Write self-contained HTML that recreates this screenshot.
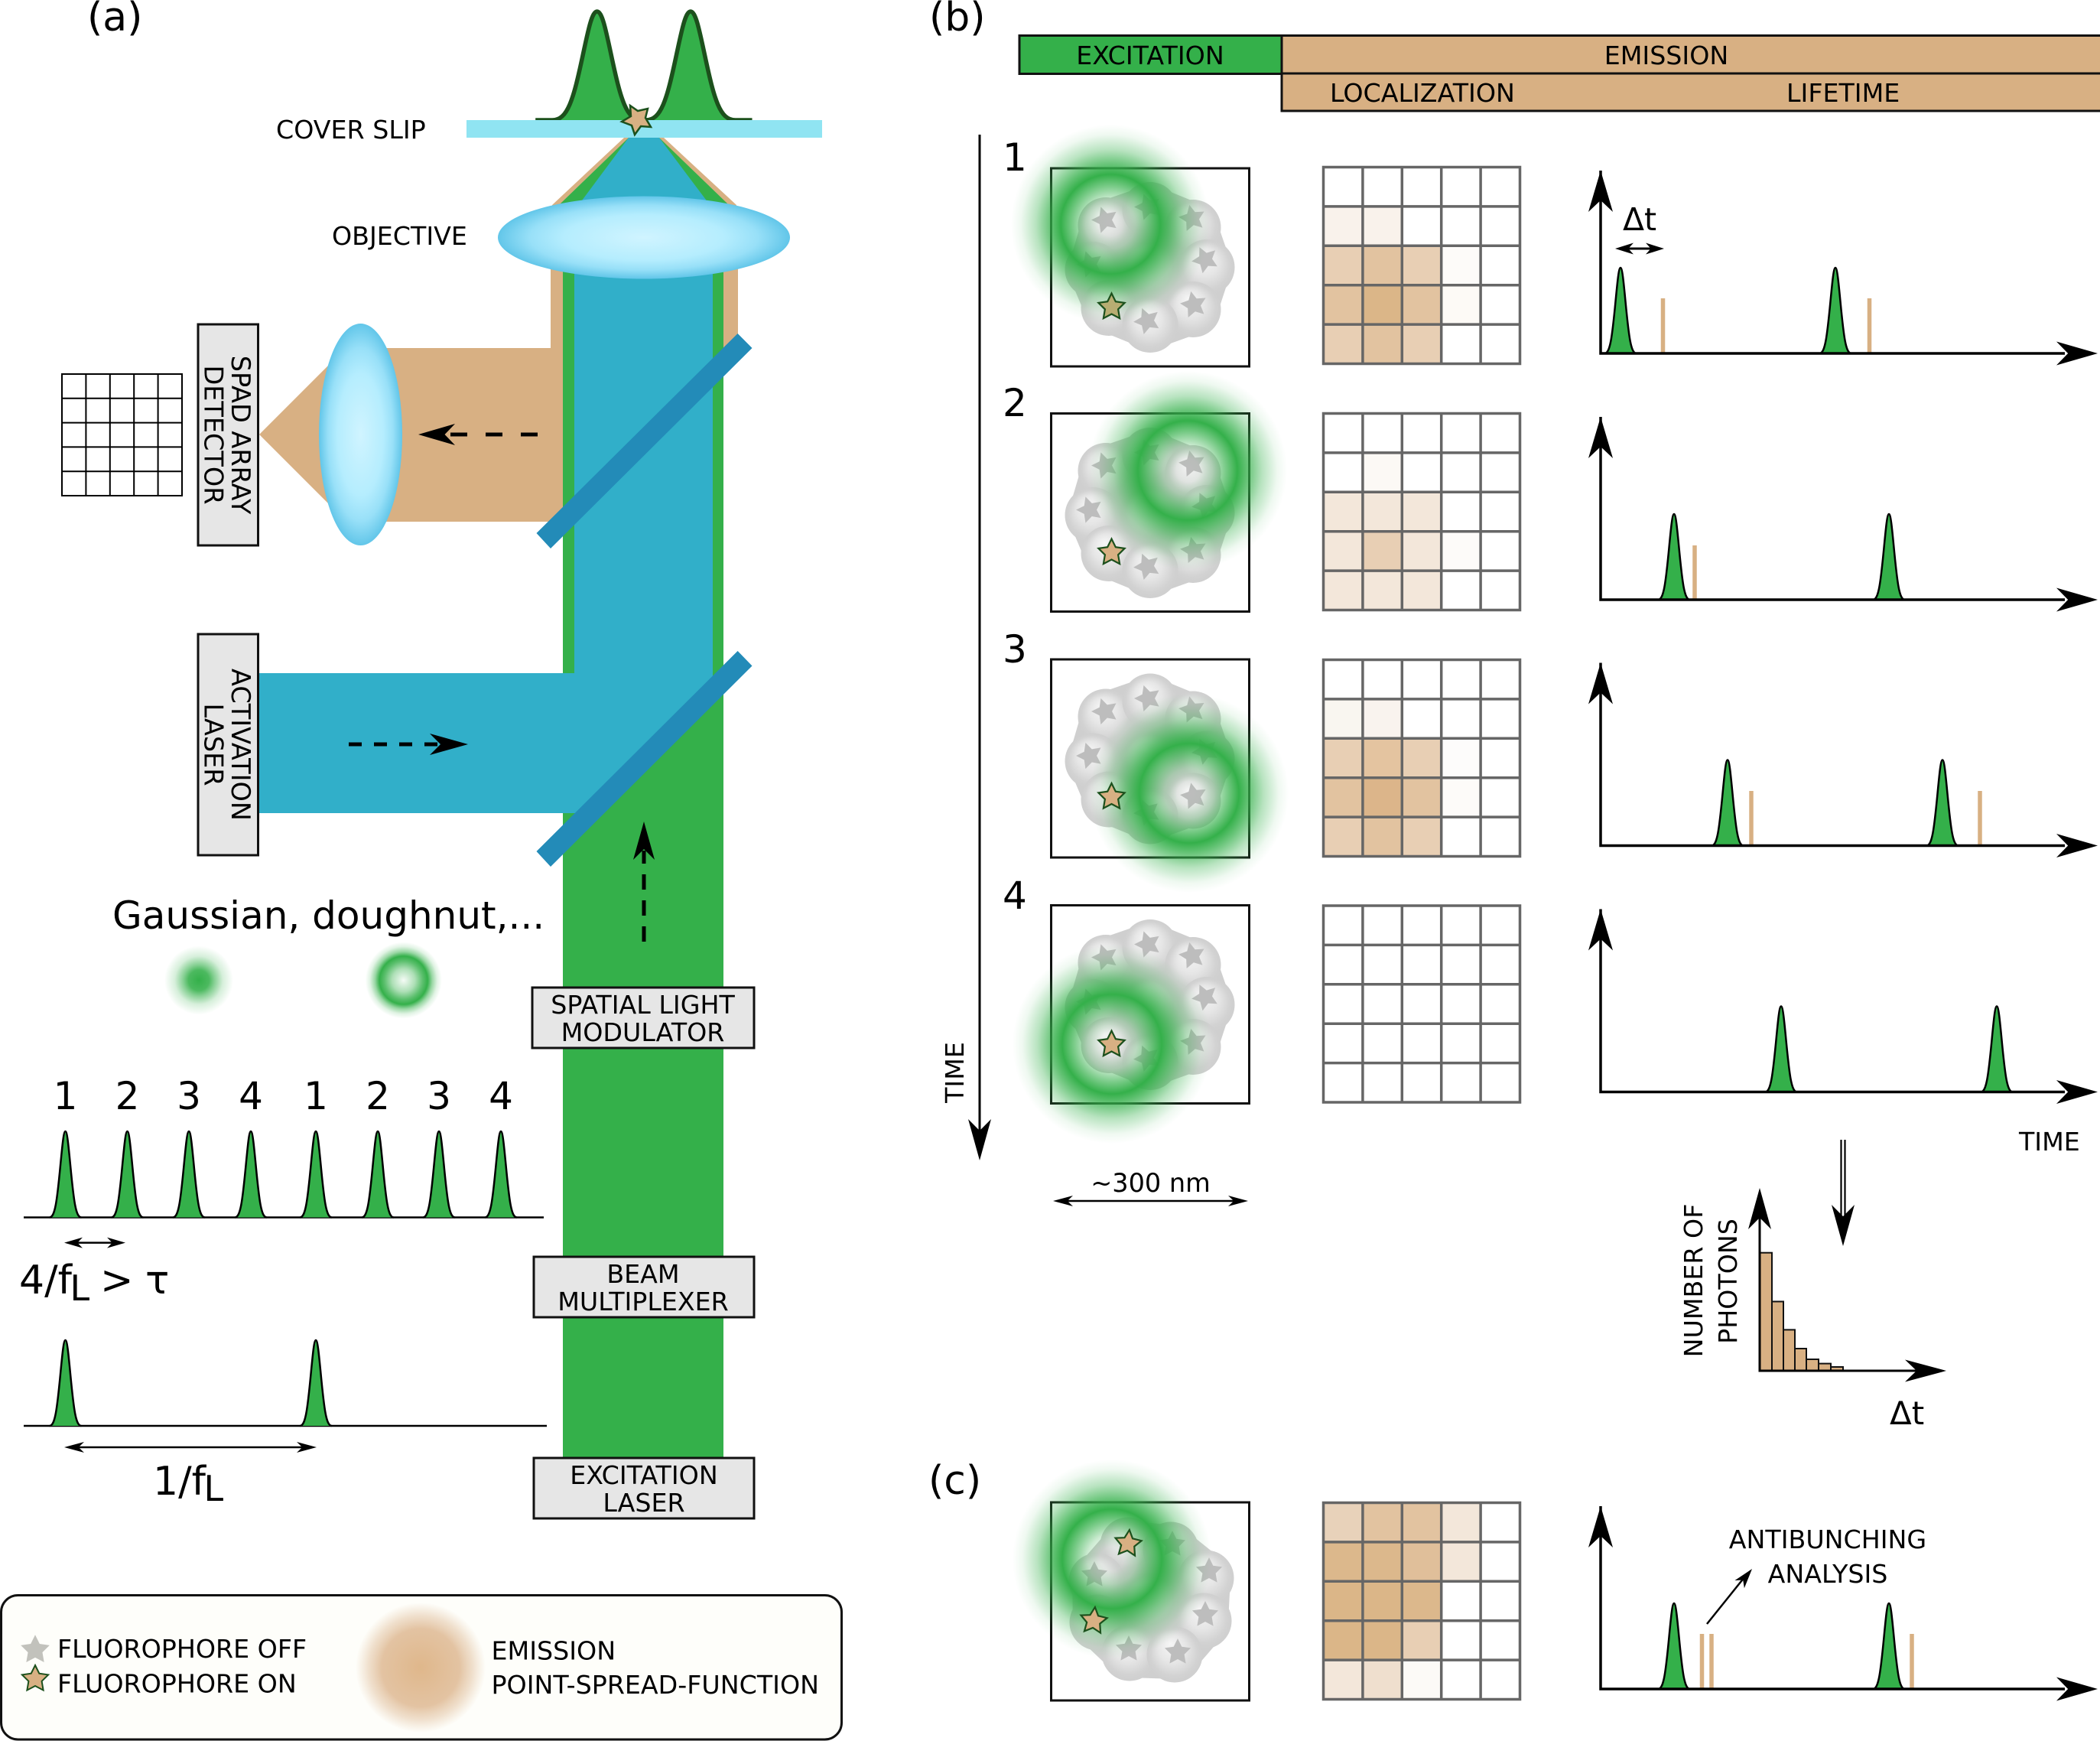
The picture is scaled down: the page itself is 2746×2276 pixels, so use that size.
<!DOCTYPE html>
<html><head><meta charset="utf-8"><title>Diagram</title>
<style>
html,body{margin:0;padding:0;background:#fff}
svg{display:block}
text{font-family:"DejaVu Sans","Liberation Sans",sans-serif;fill:#000}
.t{font-size:33.25px}
.m{text-anchor:middle}
</style></head><body>
<svg xmlns="http://www.w3.org/2000/svg" width="2746" height="2276" viewBox="0 0 2746 2276">
<defs>
<radialGradient id="lens"><stop offset="0" stop-color="#d0f4ff"/><stop offset=".55" stop-color="#b5edfe"/><stop offset=".78" stop-color="#98e0f8"/><stop offset="1" stop-color="#62c6e9"/></radialGradient>
<radialGradient id="dn"><stop offset="0" stop-color="#34b04a" stop-opacity="0"/><stop offset=".12" stop-color="#34b04a" stop-opacity=".03"/><stop offset=".25" stop-color="#34b04a" stop-opacity=".25"/><stop offset=".38" stop-color="#34b04a" stop-opacity=".65"/><stop offset=".5" stop-color="#34b04a" stop-opacity="1"/><stop offset=".6" stop-color="#34b04a" stop-opacity=".75"/><stop offset=".75" stop-color="#34b04a" stop-opacity=".35"/><stop offset=".9" stop-color="#34b04a" stop-opacity=".08"/><stop offset="1" stop-color="#34b04a" stop-opacity="0"/></radialGradient>
<radialGradient id="ga"><stop offset="0" stop-color="#34b04a"/><stop offset=".3" stop-color="#34b04a" stop-opacity=".88"/><stop offset=".45" stop-color="#34b04a" stop-opacity=".6"/><stop offset=".7" stop-color="#34b04a" stop-opacity=".2"/><stop offset="1" stop-color="#34b04a" stop-opacity="0"/></radialGradient>
<radialGradient id="dsm"><stop offset="0" stop-color="#34b04a" stop-opacity=".05"/><stop offset=".3" stop-color="#34b04a" stop-opacity=".4"/><stop offset=".5" stop-color="#34b04a" stop-opacity=".8"/><stop offset=".63" stop-color="#34b04a" stop-opacity="1"/><stop offset=".75" stop-color="#34b04a" stop-opacity=".5"/><stop offset=".88" stop-color="#34b04a" stop-opacity=".15"/><stop offset="1" stop-color="#34b04a" stop-opacity="0"/></radialGradient>
<radialGradient id="em"><stop offset="0" stop-color="#dfb78b"/><stop offset=".6" stop-color="#e3c3a2"/><stop offset=".8" stop-color="#e6cbae" stop-opacity=".6"/><stop offset="1" stop-color="#e8d0b5" stop-opacity="0"/></radialGradient>
<radialGradient id="sph" cx=".5" cy=".5" r=".5" fx=".42" fy=".3"><stop offset="0" stop-color="#f6f6f6"/><stop offset=".5" stop-color="#e6e6e6"/><stop offset=".85" stop-color="#d2d2d2"/><stop offset="1" stop-color="#cfcfcf"/></radialGradient>
<path id="st" d="M0-18 5.3-7.3 17.1-5.6 8.6 2.8 10.6 14.6 0 9-10.6 14.6-8.6 2.8-17.1-5.6-5.3-7.3Z"/>
<path id="h" d="M0 0-1-1-.72 0-1 1Z"/>
<path id="g" d="M-3.2 0C-2.1 0-1.7-.182-1-.6065C-.6-.849-.35-1 0-1C.35-1 .6-.849 1-.6065C1.7-.182 2.1 0 3.2 0" fill="#34b04a" stroke="#000" stroke-width="2.5" vector-effect="non-scaling-stroke"/>
<path id="gb" d="M-4.4 0H-3.2C-2.1 0-1.7-.182-1-.6065C-.6-.849-.35-1 0-1C.35-1 .6-.849 1-.6065C1.7-.182 2.1 0 3.2 0H4.4" fill="#34b04a" stroke="#1c501c" stroke-width="5.5" vector-effect="non-scaling-stroke"/>
<circle id="sp" cx="0" cy="0" r="36.5" fill="url(#sph)"/>
<g id="cl">
<polygon points="72,75 130,55 186,78 204,130 186,185 130,205 76,183 55,133" fill="#cfcfcf" stroke="#cfcfcf" stroke-width="64" stroke-linejoin="round"/>
<use href="#sp" x="130" y="132"/>
<use href="#sp" x="72" y="75"/>
<use href="#sp" x="130" y="55"/>
<use href="#sp" x="186" y="78"/>
<use href="#sp" x="204" y="130"/>
<use href="#sp" x="186" y="185"/>
<use href="#sp" x="55" y="133"/>
<use href="#sp" x="76" y="183"/>
<use href="#sp" x="130" y="205"/>
<g fill="#bdbdbd">
<use href="#st" transform="translate(71,68) rotate(-18)"/>
<use href="#st" transform="translate(127,51) rotate(-18)"/>
<use href="#st" transform="translate(185,66) rotate(-12)"/>
<use href="#st" transform="translate(202,120) rotate(-25)"/>
<use href="#st" transform="translate(187,179) rotate(-12)"/>
<use href="#st" transform="translate(126,200) rotate(-22)"/>
<use href="#st" transform="translate(51,126) rotate(-18)"/>
</g>
</g>
<g id="clc">
<polygon points="101,56 157,62 203,99 200,155 162,199 103,197 61,157 60,103" fill="#cfcfcf" stroke="#cfcfcf" stroke-width="64" stroke-linejoin="round"/>
<use href="#sp" x="130" y="130"/>
<use href="#sp" x="101" y="56"/>
<use href="#sp" x="157" y="62"/>
<use href="#sp" x="60" y="103"/>
<use href="#sp" x="61" y="157"/>
<use href="#sp" x="203" y="99"/>
<use href="#sp" x="200" y="155"/>
<use href="#sp" x="103" y="197"/>
<use href="#sp" x="162" y="199"/>
<g fill="#bdbdbd">
<use href="#st" transform="translate(159,55)"/>
<use href="#st" transform="translate(207,90)"/>
<use href="#st" transform="translate(202,147)"/>
<use href="#st" transform="translate(166,196)"/>
<use href="#st" transform="translate(102,192)"/>
<use href="#st" transform="translate(57,95)"/>
</g>
</g>
<path id="gl" d="M0 0H257V257H0ZM51.4 0V257M102.8 0V257M154.2 0V257M205.6 0V257M0 51.4H257M0 102.8H257M0 154.2H257M0 205.6H257" fill="none" stroke="#666" stroke-width="3.5"/>
<g id="ax">
<path d="M2093 223V462H2700" fill="none" stroke="#000" stroke-width="3.5"/>
<use href="#h" transform="translate(2093,223) rotate(-90) scale(54,16)"/>
<use href="#h" transform="translate(2743,462) scale(54,15.5)"/>
</g>
</defs>

<!-- PART A -->
<text x="114" y="40" style="font-size:52px">(a)</text>
<polygon points="339,568 445,462 505,455 720,455 720,300 722,268 816,180 868,180 963,268 965,300 965,440 736,682 505,682 445,674" fill="#d8b083"/>
<polygon points="736,300 733,266 822,180 862,180 951,266 946,300 946,1906 736,1906" fill="#34b04a"/>
<polygon points="337,880 751,880 751,300 761,262 822,180 862,180 923,261 932,300 932,903 772,1063 337,1063" fill="#31afc9"/>
<polygon points="964.6,436 983.5,455 720,717 701.5,697" fill="#238bb8"/>
<polygon points="964.6,851 983.5,870.5 720,1133 701.5,1113" fill="#238bb8"/>
<use href="#gb" transform="translate(780.7,157) scale(18.3,142)"/>
<use href="#gb" transform="translate(903,157) scale(18.3,142)"/>
<rect x="610" y="157" width="465" height="23" fill="#90e4f2"/>
<polygon points="824,138 834,145 847,142 844,154 851,166 838,165 830,176 826,164 813,159 825,152" fill="#d8b083" stroke="#1c501c" stroke-width="2.5"/>
<ellipse cx="842" cy="310.5" rx="191" ry="54" fill="url(#lens)"/>
<ellipse cx="471.5" cy="568" rx="54.5" ry="145" fill="url(#lens)"/>

<text class="t" x="361" y="181">COVER SLIP</text>
<text class="t" x="434" y="320">OBJECTIVE</text>

<!-- dashed arrows -->
<path d="M703 568H580" stroke="#000" stroke-width="5" stroke-dasharray="22 24" fill="none"/>
<use href="#h" transform="translate(547,568) rotate(180) scale(48,14)"/>
<path d="M456 973H575" stroke="#000" stroke-width="5" stroke-dasharray="17 16" fill="none"/>
<use href="#h" transform="translate(612,973) scale(50,14)"/>
<path d="M842 1231V1112" stroke="#000" stroke-width="5" stroke-dasharray="20 14" fill="none"/>
<use href="#h" transform="translate(842,1074) rotate(-90) scale(50,14)"/>

<!-- detector -->
<path d="M81 489H238V648H81ZM112.4 489V648M143.8 489V648M175.2 489V648M206.6 489V648M81 520.8H238M81 552.6H238M81 584.4H238M81 616.2H238" fill="#fff" stroke="#000" stroke-width="2"/>
<rect x="259" y="424" width="78.5" height="289" fill="#e6e6e6" stroke="#111" stroke-width="3"/>
<text transform="translate(303,568.5) rotate(90)" text-anchor="middle" style="font-size:33.5px">SPAD ARRAY</text>
<text transform="translate(267.5,568.5) rotate(90)" text-anchor="middle" style="font-size:33.5px">DETECTOR</text>
<rect x="259" y="829" width="78.5" height="289" fill="#e6e6e6" stroke="#111" stroke-width="3"/>
<text transform="translate(303,973.5) rotate(90)" text-anchor="middle" style="font-size:33.5px">ACTIVATION</text>
<text transform="translate(267.5,973.5) rotate(90)" text-anchor="middle" style="font-size:33.5px">LASER</text>

<text x="147" y="1214" style="font-size:50px">Gaussian, doughnut,...</text>
<circle cx="260" cy="1281.5" r="45" fill="url(#ga)"/>
<circle cx="527.7" cy="1281.5" r="50" fill="url(#dsm)"/>

<rect x="696" y="1291" width="290" height="79" fill="#e6e6e6" stroke="#111" stroke-width="3"/>
<text class="t m" x="840.5" y="1325">SPATIAL LIGHT</text>
<text class="t m" x="840.5" y="1361">MODULATOR</text>
<rect x="698" y="1643" width="288" height="79" fill="#e6e6e6" stroke="#111" stroke-width="3"/>
<text class="t m" x="841" y="1677">BEAM</text>
<text class="t m" x="841" y="1713">MULTIPLEXER</text>
<rect x="698" y="1906" width="288" height="79" fill="#e6e6e6" stroke="#111" stroke-width="3"/>
<text class="t m" x="842" y="1940">EXCITATION</text>
<text class="t m" x="842" y="1976">LASER</text>

<!-- pulse trains -->
<g text-anchor="middle" style="font-size:50px">
<text x="85.5" y="1450">1</text><text x="166.5" y="1450">2</text><text x="247" y="1450">3</text><text x="328" y="1450">4</text>
<text x="413" y="1450">1</text><text x="494" y="1450">2</text><text x="574" y="1450">3</text><text x="655" y="1450">4</text>
</g>
<path d="M31 1591.5H711M31 1864H715" stroke="#000" stroke-width="2.5" fill="none"/>
<use href="#g" transform="translate(85.5,1591.5) scale(6.5,112.5)"/>
<use href="#g" transform="translate(166.5,1591.5) scale(6.5,112.5)"/>
<use href="#g" transform="translate(247,1591.5) scale(6.5,112.5)"/>
<use href="#g" transform="translate(328,1591.5) scale(6.5,112.5)"/>
<use href="#g" transform="translate(413,1591.5) scale(6.5,112.5)"/>
<use href="#g" transform="translate(494,1591.5) scale(6.5,112.5)"/>
<use href="#g" transform="translate(574,1591.5) scale(6.5,112.5)"/>
<use href="#g" transform="translate(655,1591.5) scale(6.5,112.5)"/>
<use href="#g" transform="translate(85.5,1864) scale(6.5,112)"/>
<use href="#g" transform="translate(413,1864) scale(6.5,112)"/>

<path d="M95 1624.6H153" stroke="#000" stroke-width="2.5"/>
<use href="#h" transform="translate(84,1624.6) rotate(180) scale(24,7)"/>
<use href="#h" transform="translate(164,1624.6) scale(24,7)"/>
<text x="25" y="1691" style="font-size:52px">4/f</text>
<text x="91.5" y="1700" style="font-size:46px">L</text>
<text x="131" y="1691" style="font-size:52px">&gt;</text>
<text x="190" y="1691" style="font-size:52px">τ</text>

<path d="M95 1892H403" stroke="#000" stroke-width="2.5"/>
<use href="#h" transform="translate(84,1892) rotate(180) scale(26,7)"/>
<use href="#h" transform="translate(414,1892) scale(26,7)"/>
<text x="200" y="1954" style="font-size:52px">1/f</text>
<text x="266.5" y="1962" style="font-size:46px">L</text>

<!-- legend -->
<rect x="1.5" y="2085.5" width="1099" height="188.5" rx="22" fill="#fefefa" stroke="#111" stroke-width="3"/>
<use href="#st" transform="translate(46,2157) scale(1.1)" fill="#c2c2bc"/>
<use href="#st" transform="translate(46,2195)" fill="#d8b083" stroke="#1c501c" stroke-width="2"/>
<text class="t" x="75" y="2167">FLUOROPHORE OFF</text>
<text class="t" x="75" y="2212.5">FLUOROPHORE ON</text>
<circle cx="550" cy="2180" r="85" fill="url(#em)"/>
<text class="t" x="642.5" y="2169.5">EMISSION</text>
<text class="t" x="642.5" y="2214">POINT-SPREAD-FUNCTION</text>

<!-- PART B -->
<text x="1215" y="40" style="font-size:52px">(b)</text>
<rect x="1333" y="46.5" width="343" height="50" fill="#34b04a" stroke="#111" stroke-width="3"/>
<rect x="1676" y="46.5" width="1072" height="49.5" fill="#d8b083" stroke="#111" stroke-width="3"/>
<rect x="1676" y="96" width="1072" height="49" fill="#d8b083" stroke="#111" stroke-width="3"/>
<text class="t m" x="1504" y="84">EXCITATION</text>
<text class="t m" x="2179" y="84">EMISSION</text>
<text class="t" x="1739" y="133">LOCALIZATION</text>
<text class="t" x="2336" y="133">LIFETIME</text>

<path d="M1281 176V1490" stroke="#000" stroke-width="3"/>
<use href="#h" transform="translate(1281,1517) rotate(90) scale(54,15)"/>
<text class="t" transform="translate(1260,1402) rotate(-90)" text-anchor="middle">TIME</text>

<g style="font-size:50px">
<text x="1311" y="223">1</text>
<text x="1311" y="544">2</text>
<text x="1311" y="866">3</text>
<text x="1311" y="1188">4</text>
</g>

<!-- row squares -->
<rect x="1374.5" y="220" width="259" height="259" fill="#fff" stroke="#111" stroke-width="3"/>
<rect x="1374.5" y="540.5" width="259" height="259" fill="#fff" stroke="#111" stroke-width="3"/>
<rect x="1374.5" y="862" width="259" height="259" fill="#fff" stroke="#111" stroke-width="3"/>
<rect x="1374.5" y="1183.5" width="259" height="259" fill="#fff" stroke="#111" stroke-width="3"/>
<rect x="1374.5" y="1964" width="259" height="259" fill="#fff" stroke="#111" stroke-width="3"/>
<use href="#cl" transform="translate(1374,219.5)"/>
<use href="#cl" transform="translate(1374,540.5)"/>
<use href="#cl" transform="translate(1374,862)"/>
<use href="#cl" transform="translate(1374,1183.5)"/>
<use href="#clc" transform="translate(1374,1964)"/>
<circle cx="1452" cy="293" r="130" fill="url(#dn)"/>
<circle cx="1553" cy="615" r="130" fill="url(#dn)"/>
<circle cx="1555" cy="1037" r="130" fill="url(#dn)"/>
<circle cx="1454" cy="1365" r="130" fill="url(#dn)"/>
<circle cx="1454" cy="2038" r="130" fill="url(#dn)"/>
<g stroke="#1c501c" stroke-width="2.2">
<use href="#st" transform="translate(1453.5,401.5)" fill="#b8ad72"/>
<use href="#st" transform="translate(1453.5,722.5)" fill="#d8b083"/>
<use href="#st" transform="translate(1453.5,1042)" fill="#d8b083"/>
<use href="#st" transform="translate(1453.5,1365.5)" fill="#d8b083"/>
<use href="#st" transform="translate(1475,2018) rotate(6)" fill="#d8b083"/>
<use href="#st" transform="translate(1430,2119) rotate(6)" fill="#d8b083"/>
</g>

<!-- grids -->
<g transform="translate(1730.5,218.5)">
<rect x="0" y="51.4" width="51.4" height="51.4" fill="#f9f2eb"/><rect x="51.4" y="51.4" width="51.4" height="51.4" fill="#f9f2eb"/>
<rect x="0" y="102.8" width="51.4" height="51.4" fill="#e8cfb4"/><rect x="51.4" y="102.8" width="51.4" height="51.4" fill="#e2c3a0"/><rect x="102.8" y="102.8" width="51.4" height="51.4" fill="#e8cfb4"/><rect x="154.2" y="102.8" width="51.4" height="51.4" fill="#fdfbf9"/>
<rect x="0" y="154.2" width="51.4" height="51.4" fill="#e2c3a0"/><rect x="51.4" y="154.2" width="51.4" height="51.4" fill="#dbb688"/><rect x="102.8" y="154.2" width="51.4" height="51.4" fill="#e2c3a0"/><rect x="154.2" y="154.2" width="51.4" height="51.4" fill="#fdfaf6"/>
<rect x="0" y="205.6" width="51.4" height="51.4" fill="#e8cfb4"/><rect x="51.4" y="205.6" width="51.4" height="51.4" fill="#e2c3a0"/><rect x="102.8" y="205.6" width="51.4" height="51.4" fill="#e8cfb4"/>
<use href="#gl"/>
</g>
<g transform="translate(1730.5,540.5)">
<rect x="51.4" y="51.4" width="51.4" height="51.4" fill="#fcf9f5"/>
<rect x="0" y="102.8" width="51.4" height="51.4" fill="#f3e7da"/><rect x="51.4" y="102.8" width="51.4" height="51.4" fill="#f3e7da"/><rect x="102.8" y="102.8" width="51.4" height="51.4" fill="#f3e7da"/>
<rect x="0" y="154.2" width="51.4" height="51.4" fill="#f3e7da"/><rect x="51.4" y="154.2" width="51.4" height="51.4" fill="#e8cfb4"/><rect x="102.8" y="154.2" width="51.4" height="51.4" fill="#f3e7da"/><rect x="154.2" y="154.2" width="51.4" height="51.4" fill="#fdfbf9"/>
<rect x="0" y="205.6" width="51.4" height="51.4" fill="#f3e7da"/><rect x="51.4" y="205.6" width="51.4" height="51.4" fill="#f3e7da"/><rect x="102.8" y="205.6" width="51.4" height="51.4" fill="#f3e7da"/>
<use href="#gl"/>
</g>
<g transform="translate(1730.5,862.5)">
<rect x="0" y="51.4" width="51.4" height="51.4" fill="#f9f6f0"/><rect x="51.4" y="51.4" width="51.4" height="51.4" fill="#f9f3ee"/>
<rect x="0" y="102.8" width="51.4" height="51.4" fill="#e8cfb4"/><rect x="51.4" y="102.8" width="51.4" height="51.4" fill="#e4c4a0"/><rect x="102.8" y="102.8" width="51.4" height="51.4" fill="#e8cfb4"/><rect x="154.2" y="102.8" width="51.4" height="51.4" fill="#fdfcfb"/>
<rect x="0" y="154.2" width="51.4" height="51.4" fill="#e2c3a0"/><rect x="51.4" y="154.2" width="51.4" height="51.4" fill="#dcb58a"/><rect x="102.8" y="154.2" width="51.4" height="51.4" fill="#e2c3a0"/><rect x="154.2" y="154.2" width="51.4" height="51.4" fill="#fdfbf9"/>
<rect x="0" y="205.6" width="51.4" height="51.4" fill="#e8cfb4"/><rect x="51.4" y="205.6" width="51.4" height="51.4" fill="#e2c3a0"/><rect x="102.8" y="205.6" width="51.4" height="51.4" fill="#e8cfb4"/>
<use href="#gl"/>
</g>
<g transform="translate(1730.5,1184)"><use href="#gl"/></g>
<g transform="translate(1730.5,1964.5)">
<rect x="0" y="0" width="51.4" height="51.4" fill="#e8d2ba"/><rect x="51.4" y="0" width="51.4" height="51.4" fill="#e2c3a0"/><rect x="102.8" y="0" width="51.4" height="51.4" fill="#e2c3a0"/><rect x="154.2" y="0" width="51.4" height="51.4" fill="#f3e7da"/>
<rect x="0" y="51.4" width="51.4" height="51.4" fill="#dcb88c"/><rect x="51.4" y="51.4" width="51.4" height="51.4" fill="#dcb88c"/><rect x="102.8" y="51.4" width="51.4" height="51.4" fill="#e0bf9a"/><rect x="154.2" y="51.4" width="51.4" height="51.4" fill="#f3e7da"/>
<rect x="0" y="102.8" width="51.4" height="51.4" fill="#dbb688"/><rect x="51.4" y="102.8" width="51.4" height="51.4" fill="#dbb688"/><rect x="102.8" y="102.8" width="51.4" height="51.4" fill="#dcb88c"/>
<rect x="0" y="154.2" width="51.4" height="51.4" fill="#dbb688"/><rect x="51.4" y="154.2" width="51.4" height="51.4" fill="#dbb688"/><rect x="102.8" y="154.2" width="51.4" height="51.4" fill="#e8cfb4"/>
<rect x="0" y="205.6" width="51.4" height="51.4" fill="#f3e7da"/><rect x="51.4" y="205.6" width="51.4" height="51.4" fill="#efdfce"/><rect x="102.8" y="205.6" width="51.4" height="51.4" fill="#fcfaf7"/>
<use href="#gl"/>
</g>

<!-- plots -->
<path d="M2174.5 390V462M2444.5 390V462M2216 713V784M2290 1034V1105M2589 1034V1105M2225.5 2136V2208M2238 2136V2208M2500 2136V2208" stroke="#d8b083" stroke-width="5.5" fill="none"/>
<use href="#g" transform="translate(2119,462) scale(6.5,112)"/>
<use href="#g" transform="translate(2400,462) scale(6.5,112)"/>
<use href="#g" transform="translate(2189,784) scale(6.5,112)"/>
<use href="#g" transform="translate(2470,784) scale(6.5,112)"/>
<use href="#g" transform="translate(2259,1105.5) scale(6.5,112)"/>
<use href="#g" transform="translate(2540,1105.5) scale(6.5,112)"/>
<use href="#g" transform="translate(2329,1427.5) scale(6.5,112)"/>
<use href="#g" transform="translate(2611,1427.5) scale(6.5,112)"/>
<use href="#g" transform="translate(2189,2208) scale(6.5,112)"/>
<use href="#g" transform="translate(2470,2208) scale(6.5,112)"/>
<use href="#ax"/>
<use href="#ax" transform="translate(0,322)"/>
<use href="#ax" transform="translate(0,643.5)"/>
<use href="#ax" transform="translate(0,965.5)"/>
<use href="#ax" transform="translate(0,1746)"/>

<text x="2122" y="301" style="font-size:41px">Δt</text>
<path d="M2122 325H2166" stroke="#000" stroke-width="3"/>
<use href="#h" transform="translate(2112,325) rotate(180) scale(24,7.5)"/>
<use href="#h" transform="translate(2176,325) scale(24,7.5)"/>

<text class="m" x="1504.5" y="1558" style="font-size:33.5px">~300 nm</text>
<path d="M1388 1570H1621" stroke="#000" stroke-width="2.5"/>
<use href="#h" transform="translate(1377,1570) rotate(180) scale(26,7)"/>
<use href="#h" transform="translate(1632,1570) scale(26,7)"/>

<text class="t" x="2640" y="1504">TIME</text>

<path d="M2407.5 1490V1600M2412.5 1490V1600" stroke="#000" stroke-width="2.2" fill="none"/>
<use href="#h" transform="translate(2410,1629) rotate(90) scale(54,15)"/>

<!-- histogram -->
<g fill="#d8b083" stroke="#111" stroke-width="2">
<rect x="2301" y="1637.7" width="16" height="154.3"/>
<rect x="2317" y="1701.5" width="15" height="90.5"/>
<rect x="2332" y="1738.4" width="15" height="53.6"/>
<rect x="2347" y="1763" width="15" height="29"/>
<rect x="2362" y="1777" width="16" height="15"/>
<rect x="2378" y="1782.6" width="16" height="9.4"/>
<rect x="2394" y="1787" width="16" height="5"/>
</g>
<path d="M2301 1590V1792H2510" fill="none" stroke="#000" stroke-width="3"/>
<use href="#h" transform="translate(2301,1553) rotate(-90) scale(54,15)"/>
<use href="#h" transform="translate(2545,1792) scale(54,14.5)"/>
<text class="t" transform="translate(2226,1674) rotate(-90)" text-anchor="middle">NUMBER OF</text>
<text class="t" transform="translate(2271,1675) rotate(-90)" text-anchor="middle">PHOTONS</text>
<text x="2471" y="1862" style="font-size:42px">Δt</text>

<!-- PART C -->
<text x="1214" y="1953" style="font-size:52px">(c)</text>
<text class="t m" x="2390" y="2024">ANTIBUNCHING</text>
<text class="t m" x="2390" y="2069">ANALYSIS</text>
<path d="M2232 2123L2281 2062" stroke="#000" stroke-width="2.5"/>
<use href="#h" transform="translate(2291,2051) rotate(-51) scale(26,8)"/>
</svg>
</body></html>
